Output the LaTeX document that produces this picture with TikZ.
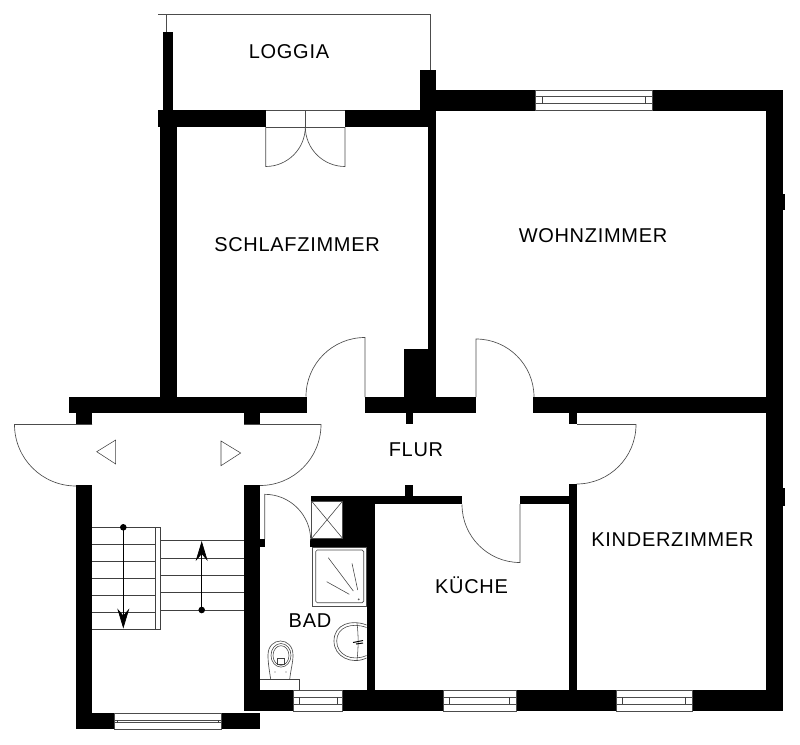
\documentclass[tikz,border=0pt]{standalone}
\usepackage{fontspec}
\setmainfont[LetterSpace=3.5]{Liberation Sans}
\usetikzlibrary{arrows.meta}

\tikzset{
    wall/.style={fill=black,draw=none},
    fine/.style={draw=black!70,line width=0.65pt},
    thin fine/.style={draw=black!75,line width=0.55pt},
    room/.style={font=\fontsize{20}{20}\selectfont,inner sep=0pt},
    flight/.style={draw=black,line width=0.7pt,-{Stealth[length=20pt,width=12pt,inset=7pt]}}
}

% frame, two inner lines, two ticks
\newcommand{\windowpane}[7]{
    \draw[fine,fill=white] (#1,#3) rectangle (#2,#4);
    \draw[fine] (#1,#5) -- (#2,#5) (#1,#6) -- (#2,#6);
    \draw[thin fine] (#1+#7,#5) -- (#1+#7,#6) (#2-#7,#5) -- (#2-#7,#6);
}

\begin{document}
\begin{tikzpicture}[x=1pt,y=-1pt]
    \useasboundingbox (0,0) rectangle (800,744);

    % walls
    \path[wall] (158,110) rectangle (266,127);
    \path[wall] (345,110) rectangle (436,127);
    \path[wall] (163,32) rectangle (173,110);
    \path[wall] (160,127) rectangle (177,397);
    \path[wall] (420,70) rectangle (436,127);
    \path[wall] (428,127) rectangle (436,349);
    \path[wall] (436,90) rectangle (783,111);
    \path[wall] (766,111) rectangle (783,711);
    \path[wall] (783,194) rectangle (785,210);
    \path[wall] (783,488) rectangle (785,506);
    \path[wall] (69,397) rectangle (307,413);
    \path[wall] (365,397) rectangle (476,413);
    \path[wall] (533,397) rectangle (766,413);
    \path[wall] (404,349) rectangle (436,397);
    \path[wall] (406,413) rectangle (413,424);
    \path[wall] (569,413) rectangle (577,424);
    \path[wall] (76,413) rectangle (92,424);
    \path[wall] (244,413) rectangle (260,424);
    \path[wall] (76,485) rectangle (92,729);
    \path[wall] (244,485) rectangle (260,711);
    \path[wall] (76,713) rectangle (260,729);
    \path[wall] (260,539) rectangle (265,547);
    \path[wall] (569,484) rectangle (577,690);
    \path[wall] (311,496) rectangle (462,504);
    \path[wall] (520,496) rectangle (569,504);
    \path[wall] (405,485) rectangle (413,496);
    \path[wall] (343,496) rectangle (375,547);
    \path[wall] (310,539) rectangle (343,547);
    \path[wall] (367,547) rectangle (375,690);
    \path[wall] (260,690) rectangle (783,711);

    % windows
    \windowpane{535}{652}{90}{110.7}{96.7}{103.7}{7}
    \windowpane{114}{221.6}{713}{729}{720}{722.7}{3.5}
    \windowpane{293.7}{342.7}{690}{711}{697.3}{704}{5.5}
    \windowpane{443}{516}{690}{711}{697.3}{704}{6.5}
    \windowpane{616}{692}{690}{711}{697.3}{704}{6.5}

    % loggia railing and its door
    \draw[fine] (158,14.3) -- (430,14.3) -- (430,70);
    \draw[fine] (166.3,14.3) -- (166.3,32);
    \draw[fine] (266,110) -- (345,110) (266,127) -- (345,127) (305.3,110) -- (305.3,127);
    \draw[fine] (265.7,127) -- (265.7,166.5) arc[start angle=90,end angle=0,radius=39.6];
    \draw[fine] (345,127) -- (345,166.5) arc[start angle=90,end angle=180,radius=39.7];

    % doors
    \draw[fine] (92,424.5) -- (14.5,424.5) arc[start angle=180,end angle=90,radius=61.5];
    \draw[fine] (244,424.5) -- (321,424.5) arc[start angle=0,end angle=90,radius=61];
    \draw[fine] (365,397) -- (365,337.5) arc[start angle=-90,end angle=-180,radius=59];
    \draw[fine] (476,397) -- (476,339) arc[start angle=-90,end angle=0,radius=58];
    \draw[fine] (577,424.5) -- (636,424.5) arc[start angle=0,end angle=90,radius=59.5];
    \draw[fine] (520,504) -- (520,562.5) arc[start angle=90,end angle=180,radius=58];
    \draw[fine] (264.7,539) -- (264.7,494.3) arc[start angle=-90,end angle=0,radius=46];

    % entrance triangles
    \draw[thin fine] (96.7,451.7) -- (115.7,440) -- (115.7,464) -- cycle;
    \draw[thin fine] (221,441) -- (240.7,453) -- (221,465.7) -- cycle;

    % stairs
    \foreach \y in {527.3,544.3,561.3,578.3,595.3,612.3,629.3}
        \draw[thin fine] (92,\y) -- (155.5,\y);
    \foreach \y in {540.3,558,575.3,592.3,610}
        \draw[thin fine] (160,\y) -- (244,\y);
    \draw[thin fine] (155.5,527.3) rectangle (160,629.3);
    \draw[flight] (123.3,527.3) -- (123.3,628.5);
    \draw[flight] (201.7,610) -- (201.7,541);
    \fill (123.3,527.3) circle (3.3pt);
    \fill (201.7,610) circle (3.3pt);

    % shaft
    \draw[fine,fill=white] (311.5,501) rectangle (342.7,538.5);
    \draw[thin fine] (311.5,501) -- (342.7,538.5) (311.5,538.5) -- (342.7,501);

    % shower
    \draw[fine,fill=white] (312.5,547) rectangle (366.5,606);
    \draw[fine,rounded corners=1.5pt] (315.7,550) rectangle (363.7,602.7);
    \draw[thin fine] (328.3,557.7) -- (353.3,591) (352,563.3) -- (357.7,590) (326.7,581.7) -- (349.3,594.3);
    \fill[black!65] (358.7,599.3) circle (1pt);

    % basin
    \draw[fine] (366.5,625) .. controls (352,619) and (334,624) .. (334,641)
        .. controls (334,657) and (352,665) .. (366.5,658);
    \draw[thin fine] (366.5,627.5) .. controls (352,622) and (336.7,627) .. (336.7,641)
        .. controls (336.7,655) and (352,662) .. (366.5,655.5);
    \draw[thin fine] (357,623) .. controls (358.5,635) and (358.5,648) .. (357,660);
    \draw[black,line width=1pt] (353,642.5) -- (363,640.5) (356,644) -- (363,643);

    % toilet
    \draw[fine] (270.7,679.3) .. controls (269,668) and (268,663) .. (268,655)
        .. controls (268,646) and (274,641) .. (280.5,641)
        .. controls (287,641) and (293,646) .. (293,655)
        .. controls (293,663) and (291,668) .. (289.7,679.3);
    \draw[thin fine] (281,655.3) ellipse (10pt and 11.8pt);
    \draw[thin fine] (281,655.5) ellipse (8pt and 9.8pt);
    \draw[thin fine] (277.5,658) rectangle (284,664);
    \fill[black!65] (275,672) circle (0.6pt) (286,672) circle (0.6pt);
    \draw[thin fine] (260,679.3) -- (299.7,679.3) -- (299.7,690);

    % labels
    \node[room] (loggia) at (289,52) {LOGGIA};
    \node[room] (schlaf) at (297,245) {SCHLAFZIMMER};
    \node[room] (wohn) at (593,236) {WOHNZIMMER};
    \node[room] (flur) at (416,450) {FLUR};
    \node[room] (kinder) at (672.5,540) {KINDERZIMMER};
    \node[room] (kueche) at (471.5,585) {KÜCHE};
    \node[room] (bad) at (310,621) {BAD};
\end{tikzpicture}
\end{document}
